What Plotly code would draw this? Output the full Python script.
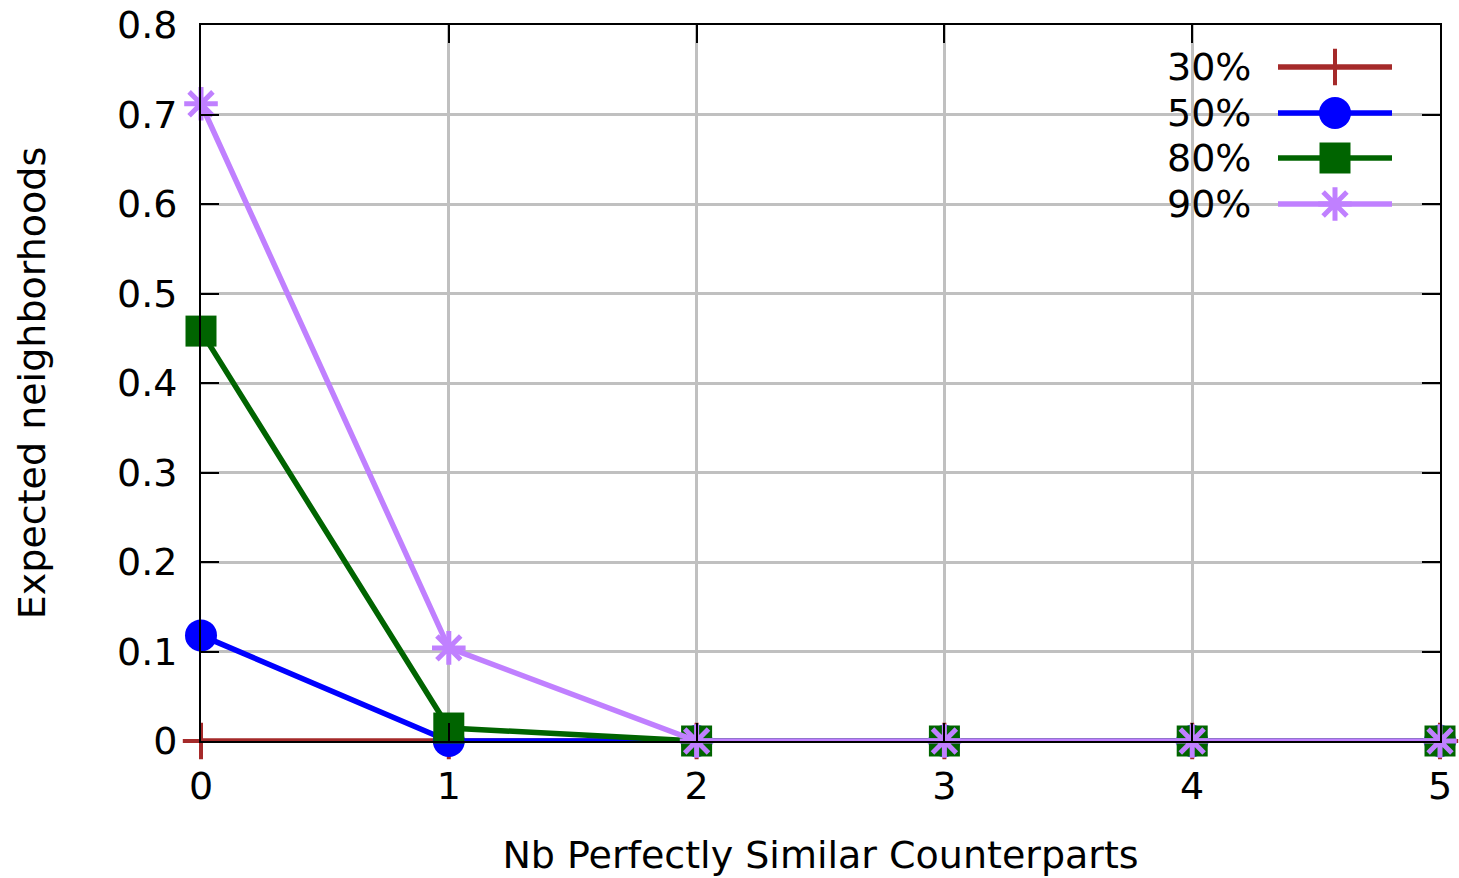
import plotly.graph_objects as go

x_vals = [0, 1, 2, 3, 4, 5]
s30 = [0, 0, 0, 0, 0, 0]
s50 = [0.118, 0.0, 0, 0, 0, 0]
s80 = [0.458, 0.0145, 0, 0, 0, 0]
s90 = [0.712, 0.104, 0, 0, 0, 0]

names = ["30%", "50%", "80%", "90%"]
series = [s30, s50, s80, s90]
colors = ["#a52a2a", "#0000ff", "#006400", "#c080ff"]
symbols = ["cross-thin", "circle", "square", "asterisk-open"]
sizes = [26, 32, 31, 28]

y_ticks = [0, 0.1, 0.2, 0.3, 0.4, 0.5, 0.6, 0.7, 0.8]
y_tick_text = ["0", "0.1", "0.2", "0.3", "0.4", "0.5", "0.6", "0.7", "0.8"]

W, H = 1459, 878
L, R, T, B = 201, 19, 25, 137

def marker(i):
    sym = symbols[i]
    if sym in ("cross-thin", "asterisk-open"):
        return dict(symbol=sym, size=sizes[i], color=colors[i],
                    line=dict(color=colors[i], width=5 if sym == "asterisk-open" else 4))
    return dict(symbol=sym, size=sizes[i], color=colors[i], line=dict(width=0))

fig = go.Figure()
for i, (nm, s) in enumerate(zip(names, series)):
    fig.add_trace(go.Scatter(x=x_vals, y=s, mode="lines+markers", name=nm,
                             line=dict(color=colors[i], width=5.5),
                             marker=marker(i), cliponaxis=False, showlegend=False))

# legend key samples, in pixel-like overlay axes
leg_y = [67, 113, 158, 204]
for i, nm in enumerate(names):
    fig.add_trace(go.Scatter(x=[1278, 1392], y=[leg_y[i], leg_y[i]], mode="lines",
                             line=dict(color=colors[i], width=5.5), xaxis="x2", yaxis="y2",
                             showlegend=False, hoverinfo="skip", cliponaxis=False))
    fig.add_trace(go.Scatter(x=[1335], y=[leg_y[i]], mode="markers",
                             marker=marker(i), xaxis="x2", yaxis="y2",
                             showlegend=False, hoverinfo="skip", cliponaxis=False))
    fig.add_annotation(x=1253, y=leg_y[i], xref="x2", yref="y2", text=nm,
                       showarrow=False, xanchor="right", yanchor="middle",
                       font=dict(size=38, color="black", family="DejaVu Sans"))

# white box behind legend (paper coords of plot area)
fig.add_shape(type="rect", xref="paper", yref="paper",
              x0=(1165 - 201) / 1239, x1=(1417 - 201) / 1239,
              y0=(741 - 226) / 716, y1=(741 - 45) / 716,
              fillcolor="white", line=dict(width=0), layer="between")

fig.update_layout(
    width=W, height=H,
    margin=dict(l=L, r=R, t=T, b=B, autoexpand=False),
    paper_bgcolor="white", plot_bgcolor="white",
    font=dict(family="DejaVu Sans", size=38, color="black"),
    xaxis=dict(range=[0, 5], tickvals=x_vals, ticktext=[str(v) for v in x_vals],
               ticks="inside", ticklen=18, tickwidth=2, tickcolor="black",
               showline=True, linecolor="black", linewidth=2, mirror="ticks",
               showgrid=True, gridcolor="#c0c0c0", gridwidth=3, zeroline=False,
               ticklabelstandoff=10, automargin=False,
               title=dict(text="Nb Perfectly Similar Counterparts", standoff=35,
                          font=dict(size=38))),
    yaxis=dict(range=[0, 0.8], tickvals=y_ticks, ticktext=y_tick_text,
               ticks="inside", ticklen=18, tickwidth=2, tickcolor="black",
               showline=True, linecolor="black", linewidth=2, mirror="ticks",
               showgrid=True, gridcolor="#c0c0c0", gridwidth=3, zeroline=False,
               ticklabelstandoff=14, automargin=False,
               title=dict(text="Expected neighborhoods", standoff=60,
                          font=dict(size=38))),
    xaxis2=dict(range=[201, 1440], overlaying="x", visible=False, fixedrange=True),
    yaxis2=dict(range=[741, 25], overlaying="y", visible=False, fixedrange=True),
    showlegend=False,
)

fig.write_html("out.html")
